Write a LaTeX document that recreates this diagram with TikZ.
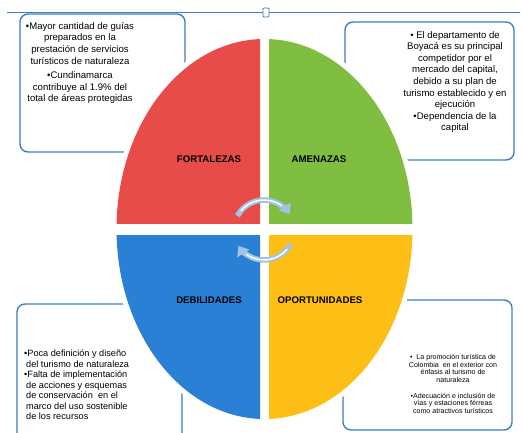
\documentclass[tikz,border=0pt]{standalone}
\usepackage{fontspec}
\setmainfont{Liberation Sans}
\usepackage{tikz}
\usetikzlibrary{calc}
\usetikzlibrary{arrows.meta}
\definecolor{rojo}{RGB}{232,76,72}
\definecolor{verde}{RGB}{128,190,66}
\definecolor{azul}{RGB}{42,128,212}
\definecolor{amarillo}{RGB}{253,190,22}
\definecolor{marco}{RGB}{62,125,195}
\definecolor{flecha}{RGB}{160,195,230}
\tikzset{
  caja/.style={draw=marco,line width=1.4,rounded corners=8},
  etiqueta/.style={font=\bfseries\fontsize{9.7}{10}\selectfont},
  texto/.style={font=\fontsize{9.6}{11.6}\selectfont,align=center,inner sep=0},
  giro/.style={draw=flecha,line width=5.5,-{Triangle[width=14,length=9]}},
  brillo/.style={draw=white,line width=1.5,line cap=round}
}
\begin{document}
\begin{tikzpicture}[x=1bp,y=1bp]
            \useasboundingbox (0,0) rectangle (523,432);
            \clip (0,0) rectangle (523,432);
            \fill[white] (0,0) rectangle (523,432);
            \coordinate (o) at (264.5,203);
            \coordinate (c) at (264,202);
            % marco superior
            \draw[marco,line width=0.8](7,420)--(520,420);
            \draw[marco,line width=0.8,fill=white,rounded corners=1](263,415) rectangle (269,424);
            % cajas
            \draw[caja](20,418) rectangle (185,280);
            \draw[caja](345,410) rectangle (514,272);
            \draw[caja](17,128) rectangle (182,-20);
            \draw[caja](343,132) rectangle (512,2);
            % elipse en cuatro partes
            \fill[white](o) ellipse [x radius=153,y radius=195];
            \begin{scope}\clip ($(o)+(-4.5,6)$) rectangle ($(o)+(-200,200)$);
              \fill[rojo](o) ellipse [x radius=148,y radius=190];\end{scope}
            \begin{scope}\clip ($(o)+(4.5,6)$) rectangle ($(o)+(200,200)$);
              \fill[verde](o) ellipse [x radius=148,y radius=190];\end{scope}
            \begin{scope}\clip ($(o)+(-4.5,-6)$) rectangle ($(o)+(-200,-200)$);
              \fill[azul](o) ellipse [x radius=148,y radius=190];\end{scope}
            \begin{scope}\clip ($(o)+(4.5,-6)$) rectangle ($(o)+(200,-200)$);
              \fill[amarillo](o) ellipse [x radius=148,y radius=190];\end{scope}
            \node[etiqueta] (fo) at (209,273) {FORTALEZAS};
            \node[etiqueta] (am) at (319,273) {AMENAZAS};
            \node[etiqueta] (de) at (209,132) {DEBILIDADES};
            \node[etiqueta] (op) at (320,132) {OPORTUNIDADES};
            % flechas del centro
            \draw[giro]($(c)+(152:30)$) arc[start angle=152,end angle=32,radius=30];
            \draw[giro]($(c)+(-28:30)$) arc[start angle=-28,end angle=-148,radius=30];
            \draw[brillo]($(c)+(140:30)$) arc[start angle=140,end angle=55,radius=30];
            \draw[brillo]($(c)+(-40:30)$) arc[start angle=-40,end angle=-125,radius=30];
            % textos
            \node[texto] (tfo) at (80,369) {•Mayor cantidad de guías\\ preparados en la\\ prestación de servicios\\ turísticos de naturaleza\\[3bp] •Cundinamarca\\ contribuye al 1.9\% del\\ total de áreas protegidas};
            \node[texto] (tam) at (455,350) {• El departamento de\\ Boyacá es su principal\\ competidor por el\\ mercado del capital,\\ debido a su plan de\\ turismo establecido y en\\ ejecución\\ •Dependencia de la\\ capital};
            \node[texto,font=\fontsize{9.2}{10.5}\selectfont,align=left,anchor=west] (tde) at (24,47) {•Poca definición y diseño\\ \hspace*{2bp}del turismo de naturaleza\\ •Falta de implementación\\ \hspace*{2bp}de acciones y esquemas\\ \hspace*{2bp}de conservación \ en el\\ \hspace*{2bp}marco del uso sostenible\\ \hspace*{2bp}de los recursos};
            \node[texto,font=\fontsize{7.1}{7.7}\selectfont] (top) at (453,48) {•\ \ La promoción turística de\\ Colombia \ en el exterior con\\ énfasis al turismo de\\ naturaleza\\[8bp] •Adecuación e inclusión de\\ vías y estaciones férreas\\ como atractivos turísticos};
        \end{tikzpicture}
\end{document}
